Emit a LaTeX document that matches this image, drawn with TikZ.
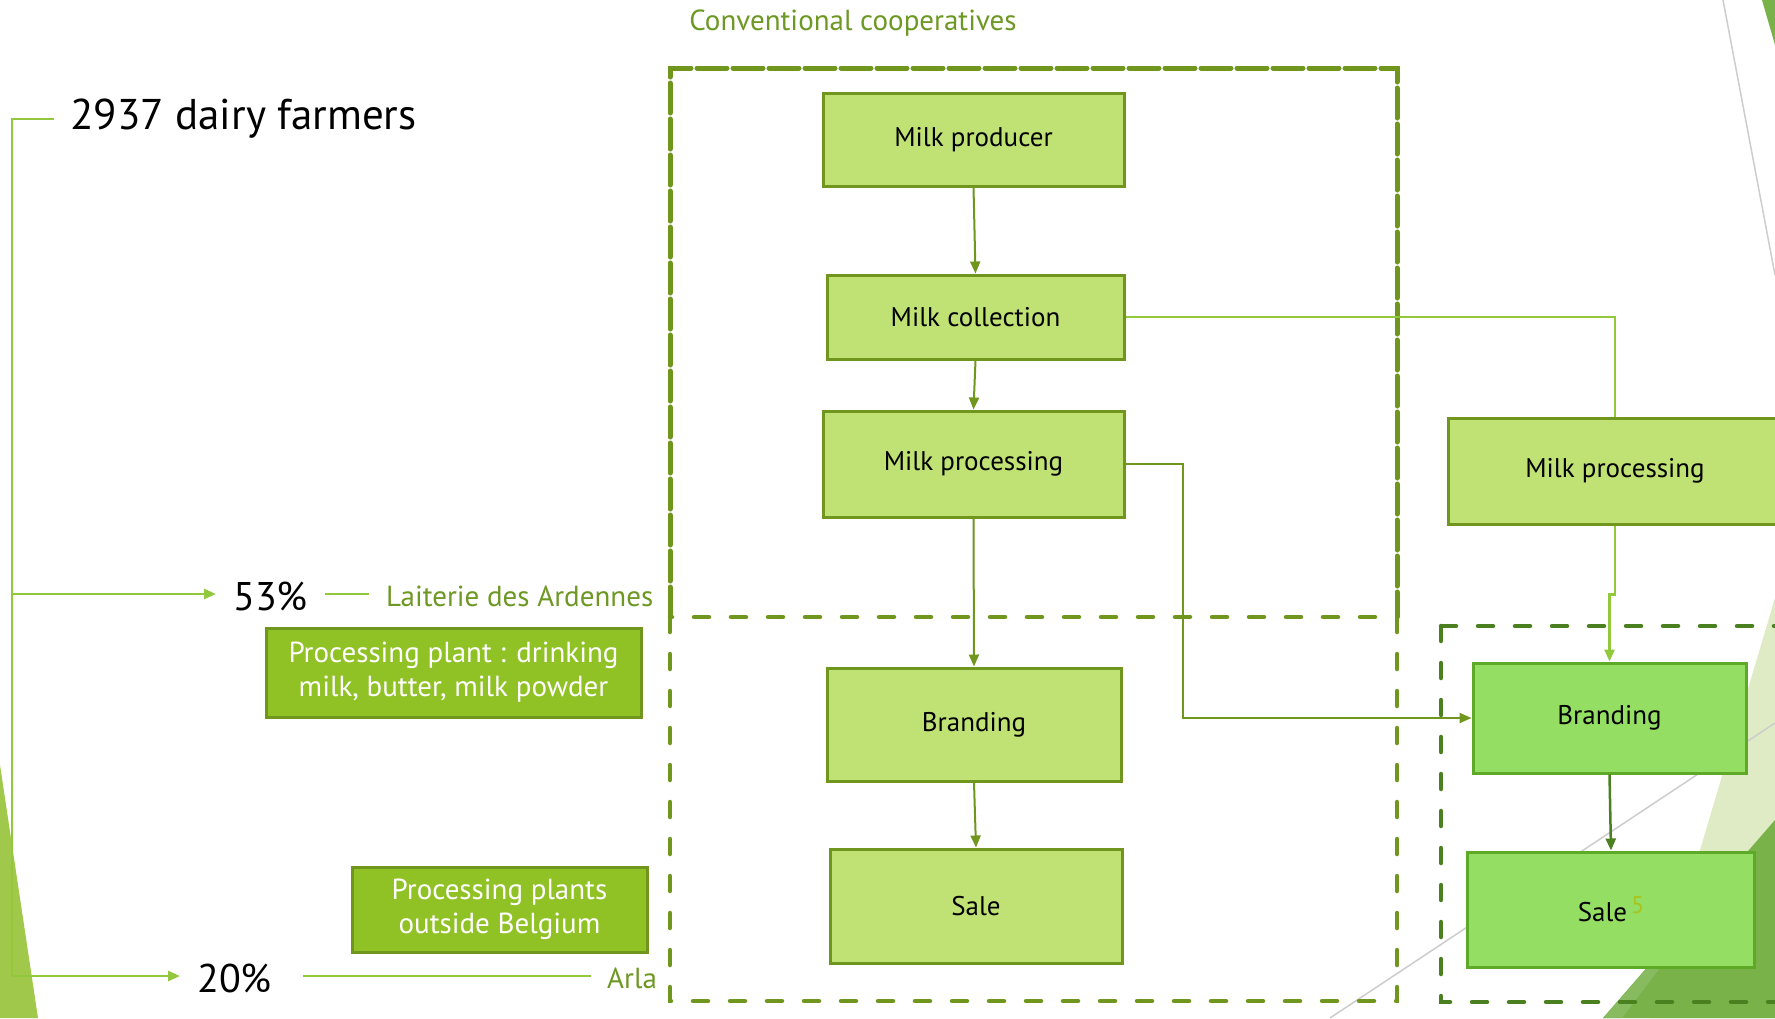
\documentclass[tikz,border=0pt]{standalone}
\usepackage{fontspec}
\setmainfont{PT Sans}
\usetikzlibrary{arrows.meta}
\definecolor{olive}{RGB}{112,150,30}
\definecolor{lightfill}{RGB}{192,226,117}
\definecolor{brightfill}{RGB}{144,194,38}
\definecolor{linegreen}{RGB}{146,200,60}
\definecolor{rfill}{RGB}{148,222,100}
\definecolor{rborder}{RGB}{94,170,40}
\definecolor{rdash}{RGB}{74,128,32}
\definecolor{textolive}{RGB}{110,152,36}
\definecolor{supcol}{RGB}{168,196,28}
\definecolor{palebg}{RGB}{222,235,197}
\definecolor{darkbg}{RGB}{120,178,72}
\definecolor{midbg}{RGB}{136,186,96}
\definecolor{leftbg}{RGB}{160,200,75}
\definecolor{greyline}{RGB}{205,205,205}
\tikzset{
  flowbox/.style={draw=olive, line width=3pt, fill=lightfill, inner sep=0pt,
    font=\fontsize{27}{31}\selectfont, text=black},
  rightbox/.style={draw=rborder, line width=3pt, fill=rfill, inner sep=0pt,
    font=\fontsize{27}{31}\selectfont, text=black},
  plantbox/.style={draw=olive, line width=3pt, fill=brightfill, inner sep=0pt,
    font=\fontsize{29}{34}\selectfont, text=white, align=center},
  bigtext/.style={inner sep=0pt, anchor=west, font=\fontsize{43}{48}\selectfont, text=black},
  pcttext/.style={inner sep=0pt, anchor=west, font=\fontsize{40}{46}\selectfont, text=black},
  labeltext/.style={inner sep=0pt, anchor=west, font=\fontsize{29}{33}\selectfont, text=textolive},
  arrowtip/.style={-{Triangle[length=12pt,width=10pt]}},
  oliveconn/.style={draw=olive, line width=2pt},
  greenconn/.style={draw=linegreen, line width=2.5pt},
  darkconn/.style={draw=rdash, line width=2.5pt},
  densedash/.style={draw=olive, line width=5pt, dash pattern=on 30pt off 6pt, line cap=round},
  sparsedash/.style={draw=olive, line width=4.5pt, dash pattern=on 15pt off 22pt, line cap=round},
  rightdash/.style={draw=rdash, line width=4.5pt, dash pattern=on 15pt off 22pt, line cap=round}
}
\begin{document}
\begin{tikzpicture}[x=1pt,y=-1pt]
\useasboundingbox (0,0) rectangle (1775,1018);
\fill[white] (0,0) rectangle (1775,1018);
% background decorations
\fill[leftbg] (0,765) -- (38,1018) -- (0,1018) -- cycle;
\fill[darkbg] (1762,0) -- (1775,0) -- (1775,45) -- cycle;
\draw[greyline, line width=1.5pt] (1723,0) -- (1775,275);
\fill[palebg] (1775,598) -- (1650,1018) -- (1775,1018) -- cycle;
\fill[darkbg] (1603,1018) -- (1775,820) -- (1775,1018) -- cycle;
\fill[midbg] (1603,1018) -- (1647,968) -- (1660,968) -- (1622,1018) -- cycle;
\draw[greyline, line width=1.5pt] (1330,1018) -- (1775,723);

% dashed frames
\draw[densedash] (670,617) -- (670,68) -- (1397,68) -- (1397,617);
\draw[sparsedash] (670,617) rectangle (1397,1001);
\draw[rightdash] (1441,626) -- (1800,626) (1441,626) -- (1441,1002) -- (1800,1002);

\node[inner sep=0pt, font=\fontsize{29}{33}\selectfont, text=textolive] (cc) at (853,23) {Conventional cooperatives};

% main column boxes
\node[flowbox, minimum width=301pt, minimum height=93pt] (mp) at (973.5,139.5) {Milk producer};
\node[flowbox, minimum width=297pt, minimum height=84pt] (mc) at (975.5,317) {Milk collection};
\node[flowbox, minimum width=301pt, minimum height=106pt] (mpr) at (973.5,464) {Milk processing};
\node[flowbox, minimum width=294pt, minimum height=113pt] (br) at (974,724.5) {Branding};
\node[flowbox, minimum width=292pt, minimum height=114pt] (sa) at (976,906) {Sale};

% right column boxes
\node[flowbox, minimum width=334pt, minimum height=106pt] (rmp) at (1615,471) {Milk processing};
\node[rightbox, minimum width=273pt, minimum height=110pt] (rbr) at (1609.5,718) {Branding};
\node[rightbox, minimum width=287pt, minimum height=115pt] (rsa) at (1611,909.5) {Sale\hspace{4pt}\raisebox{8pt}{\fontsize{24}{24}\selectfont\textcolor{supcol}{5}}};

% left side
\node[bigtext] (df) at (70,119) {2937 dairy farmers};
\node[pcttext] (p53) at (233,596) {53\%};
\node[labeltext] (lda) at (386,596) {Laiterie des Ardennes};
\node[pcttext] (p20) at (197,978) {20\%};
\node[labeltext] (arla) at (607,978) {Arla};
\node[plantbox, minimum width=375pt, minimum height=89pt] (pp1) at (453.5,672.5) {Processing plant : drinking\\milk, butter, milk powder};
\node[plantbox, minimum width=295pt, minimum height=85pt] (pp2) at (499.5,909.5) {Processing plants\\outside Belgium};

\coordinate (b0) at (54,119);
\coordinate (b1) at (12,119);
\coordinate (b2) at (12,594);
\coordinate (b3) at (12,976);
\coordinate (a53) at (216,594);
\coordinate (a20) at (180,976);
\draw[greenconn] (b0) -- (b1) -- (b3);
\draw[greenconn, arrowtip] (b2) -- (a53);
\draw[greenconn, arrowtip] (b3) -- (a20);
\coordinate (l1a) at (325,594);
\coordinate (l1b) at (369,594);
\draw[greenconn] (l1a) -- (l1b);
\coordinate (l2a) at (303,976);
\coordinate (l2b) at (591,976);
\draw[greenconn] (l2a) -- (l2b);

% connectors
\draw[oliveconn, arrowtip] (mp.south) -- (mc.north);
\draw[oliveconn, arrowtip] (mc.south) -- (mpr.north);
\draw[oliveconn, arrowtip] (mpr.south) -- (br.north);
\draw[oliveconn, arrowtip] (br.south) -- (sa.north);
\draw[greenconn] (mc.east) -| (rmp.north);
\draw[greenconn, arrowtip] (rmp.south) -- ++(0,69) -| (rbr.north);
\draw[oliveconn, arrowtip] (mpr.east) -- ++(57,0) |- (rbr.west);
\draw[darkconn, arrowtip] (rbr.south) -- (rsa.north);
\end{tikzpicture}
\end{document}
